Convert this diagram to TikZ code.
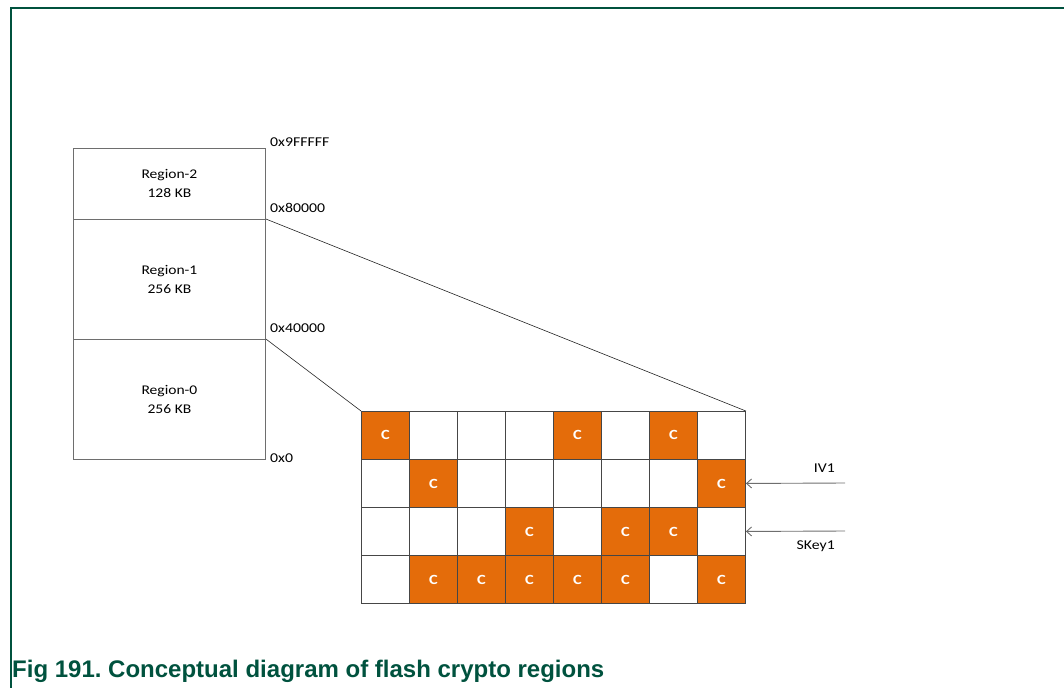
\documentclass[tikz,border=0pt]{standalone}
\usepackage{fontspec}
\setmainfont{Carlito}[FakeStretch=1.17]
\newfontfamily\capfont{Liberation Sans}
\usetikzlibrary{arrows.meta}
\definecolor{nxpgreen}{RGB}{0,82,62}
\definecolor{corange}{RGB}{228,108,10}
\definecolor{gridgray}{RGB}{70,70,70}
\definecolor{boxgray}{RGB}{110,110,110}
\frenchspacing
\begin{document}
\begin{tikzpicture}[x=1pt,y=-1pt,
  region/.style={draw=boxgray, line width=0.9pt, minimum width=192pt, inner sep=0pt, anchor=north west, align=center, font=\fontsize{13.3}{19}\selectfont},
  addr/.style={anchor=west, inner sep=0pt, font=\fontsize{13.5}{15}\selectfont},
  cell/.style={draw=gridgray, line width=0.9pt, minimum size=48pt, inner sep=0pt, anchor=north west, fill=white},
  ccell/.style={cell, fill=corange, text=white, font=\bfseries\fontsize{14}{16}\selectfont},
  conn/.style={draw=black!85, line width=0.6pt},
  keyarrow/.style={draw=boxgray, line width=0.9pt, -{Straight Barb[length=5pt,width=9pt]}},
  keylbl/.style={anchor=east, inner sep=0pt, font=\fontsize{13.5}{15}\selectfont},
  border/.style={draw=nxpgreen, line width=1.6pt}]
\useasboundingbox (0,0) rectangle (1064,688);
% page frame
\coordinate (ftl) at (11,8);
\coordinate (ftr) at (1064,8);
\coordinate (fbl) at (11,688);
\draw[border] (ftr) -- (ftl) -- (fbl);
% memory map
\node[region, minimum height=71pt] (r2) at (73,148) {Region-2\\128 KB};
\node[region, minimum height=120pt] (r1) at (73,219) {Region-1\\256 KB};
\node[region, minimum height=120pt] (r0) at (73,339) {Region-0\\256 KB};
\node[addr] (a3) at (270,142) {0x9FFFFF};
\node[addr] (a2) at (270,208) {0x80000};
\node[addr] (a1) at (270,328) {0x40000};
\node[addr] (a0) at (270,458) {0x0};
% grid
\foreach \r/\pat in {0/{1,0,0,0,1,0,1,0},1/{0,1,0,0,0,0,0,1},2/{0,0,0,1,0,1,1,0},3/{0,1,1,1,1,1,0,1}}{
  \foreach \v [count=\c from 0] in \pat {
    \ifnum\v=1
      \node[ccell] (c-\r-\c) at ({361+48*\c},{411+48*\r}) {C};
    \else
      \node[cell] (c-\r-\c) at ({361+48*\c},{411+48*\r}) {};
    \fi
  }
}
% zoom lines
\draw[conn] (r1.north east) -- (c-0-7.north east);
\draw[conn] (r0.north east) -- (c-0-0.north west);
% key inputs
\coordinate (ivsrc) at (845,483);
\coordinate (sksrc) at (845,531);
\draw[keyarrow] (ivsrc) -- (c-1-7.east);
\draw[keyarrow] (sksrc) -- (c-2-7.east);
\node[keylbl] (iv) at (835,468) {IV1};
\node[keylbl] (sk) at (835,546) {SKey1};
% caption
\node[anchor=base west, inner sep=0pt, text=nxpgreen, font=\capfont\bfseries\fontsize{24}{28}\selectfont] (cap) at (12,677) {Fig 191. Conceptual diagram of flash crypto regions};
\end{tikzpicture}
\end{document}
